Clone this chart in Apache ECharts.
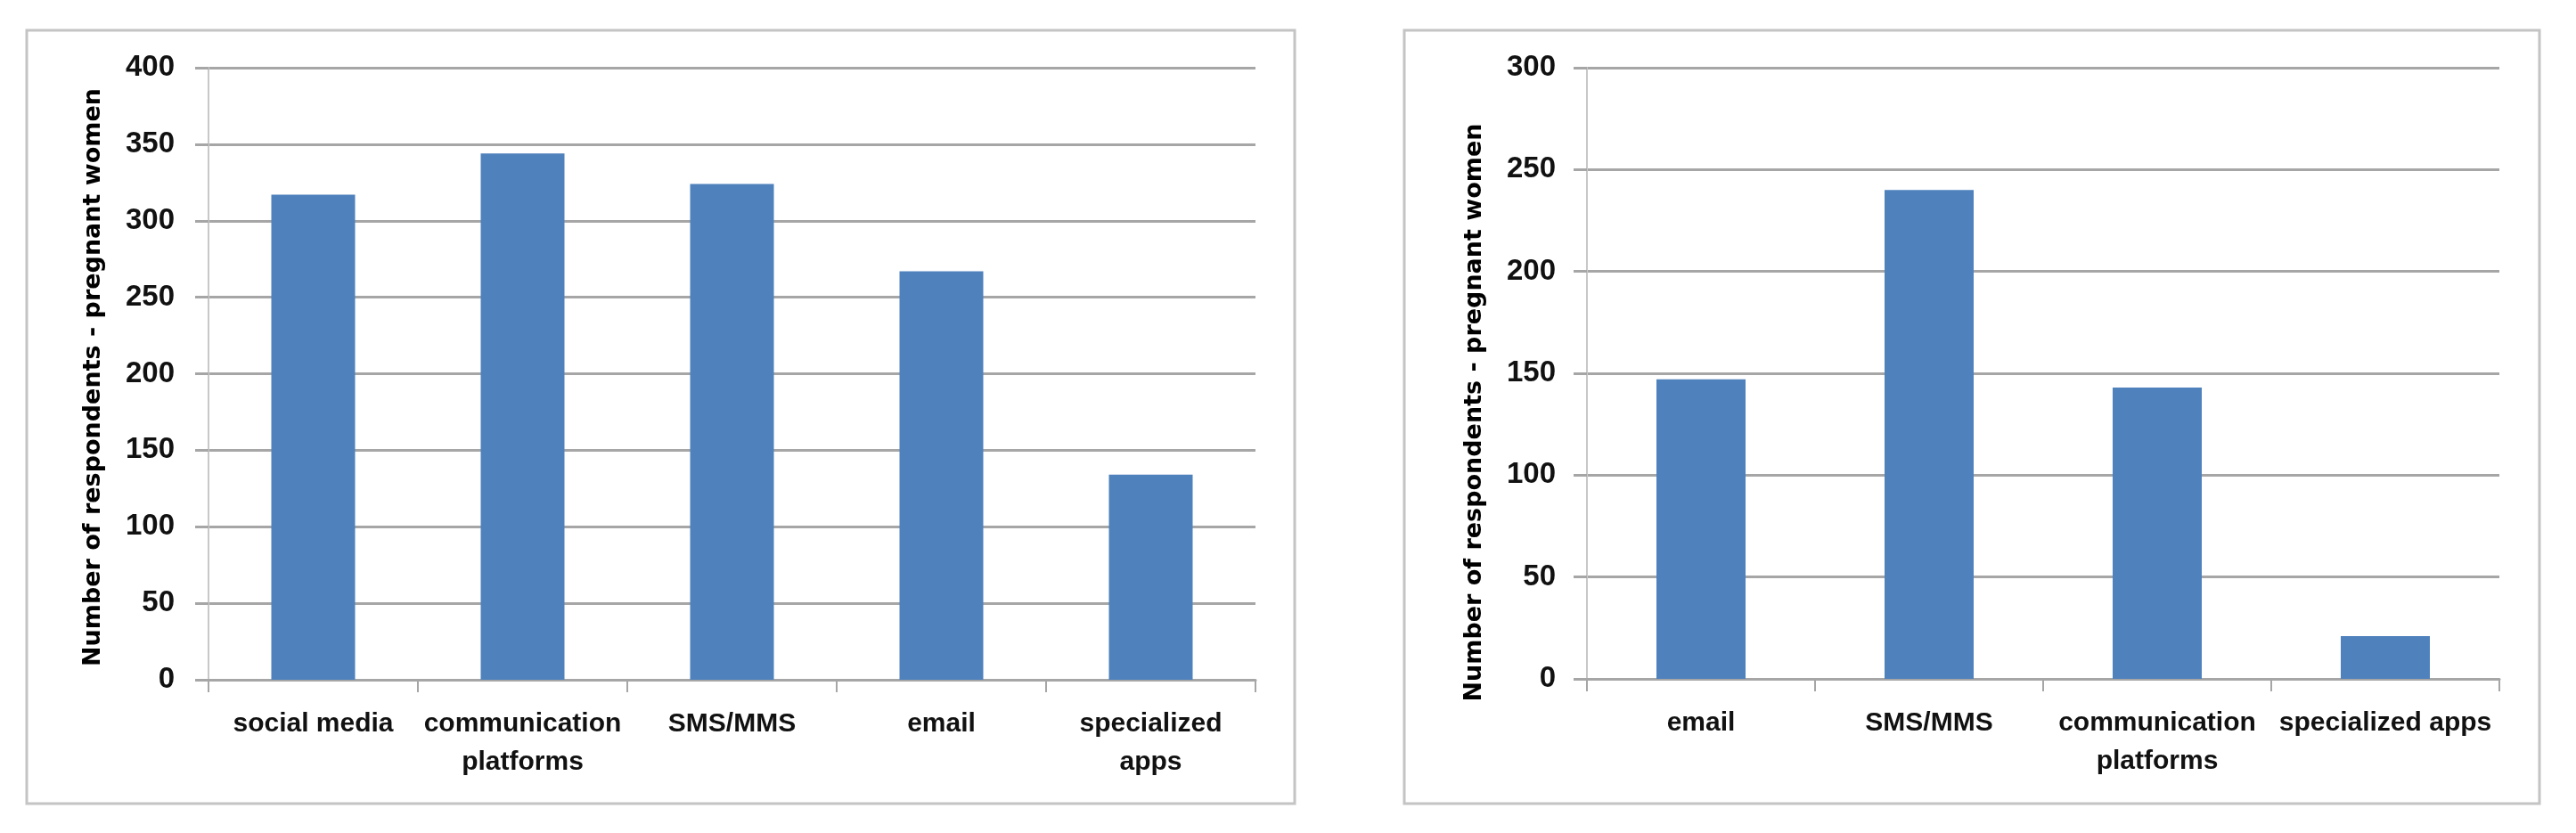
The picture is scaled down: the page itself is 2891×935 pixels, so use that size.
<!DOCTYPE html>
<html>
<head>
<meta charset="utf-8">
<script src="https://cdn.jsdelivr.net/npm/echarts@6/dist/echarts.min.js"></script>
<style>
html,body{margin:0;padding:0;background:#fff;}
#c{width:2891px;height:935px;}
</style>
</head>
<body>
<div id="c"></div>
<script>
// ---- data ----
const leftCategories = ['social media', 'communication\nplatforms', 'SMS/MMS', 'email', 'specialized\napps'];
const leftValues = [317, 344, 324, 267, 134];
const rightCategories = ['email', 'SMS/MMS', 'communication\nplatforms', 'specialized apps'];
const rightValues = [147, 240, 143, 21];
const leftYMax = 400;
const rightYMax = 300;
const yInterval = 50;
const yTitle = 'Number of respondents - pregnant women';

// ---- styles ----
const BAR = '#4f81bd';
const GRID = '#a6a6a6';
const FRAME = '#c4c4c4';

const chart = echarts.init(document.getElementById('c'), null, {renderer: 'canvas'});

function xAxisCfg(gridIndex, cats) {
  return {
    type: 'category', gridIndex: gridIndex, data: cats,
    axisLine: {show: true, lineStyle: {color: GRID, width: 3}},
    axisTick: {show: true, length: 14, lineStyle: {color: GRID, width: 2}},
    axisLabel: {color: '#111', fontFamily: 'Liberation Sans', fontWeight: 'bold', fontSize: 30, lineHeight: 43, margin: 28, interval: 0}
  };
}
function yAxisCfg(gridIndex, max, gap, pad, margin) {
  return {
    type: 'value', gridIndex: gridIndex, min: 0, max: max, interval: yInterval,
    name: yTitle, nameLocation: 'middle', nameGap: gap, nameRotate: 90,
    nameTextStyle: {color: '#000', fontFamily: 'DejaVu Sans', fontWeight: 'bold', fontSize: 27, padding: pad},
    axisLine: {show: true, lineStyle: {color: '#c8c8c8', width: 2}},
    axisTick: {show: true, length: 15, lineStyle: {color: GRID, width: 3}},
    axisLabel: {color: '#111', fontFamily: 'Liberation Sans', fontWeight: 'bold', fontSize: 33, margin: margin},
    splitLine: {show: true, lineStyle: {color: GRID, width: 3}}
  };
}

chart.setOption({
  animation: false,
  backgroundColor: '#fff',
  graphic: [
    {type: 'rect', shape: {x: 30, y: 34, width: 1423, height: 868}, style: {fill: 'none', stroke: FRAME, lineWidth: 3}, z: -1},
    {type: 'rect', shape: {x: 1576, y: 34, width: 1274, height: 868}, style: {fill: 'none', stroke: FRAME, lineWidth: 3}, z: -1}
  ],
  grid: [
    {left: 234, right: 2891 - 1409, top: 76, bottom: 935 - 763, containLabel: false},
    {left: 1781, right: 2891 - 2805, top: 76, bottom: 935 - 762, containLabel: false}
  ],
  xAxis: [xAxisCfg(0, leftCategories), xAxisCfg(1, rightCategories)],
  yAxis: [yAxisCfg(0, leftYMax, 116, [0, 8, 0, 0], 38), yAxisCfg(1, rightYMax, 113, [0, 88, 0, 0], 35)],
  series: [
    {type: 'bar', xAxisIndex: 0, yAxisIndex: 0, data: leftValues, barWidth: 94, itemStyle: {color: BAR}},
    {type: 'bar', xAxisIndex: 1, yAxisIndex: 1, data: rightValues, barWidth: 100, itemStyle: {color: BAR}}
  ]
});
</script>
</body>
</html>
